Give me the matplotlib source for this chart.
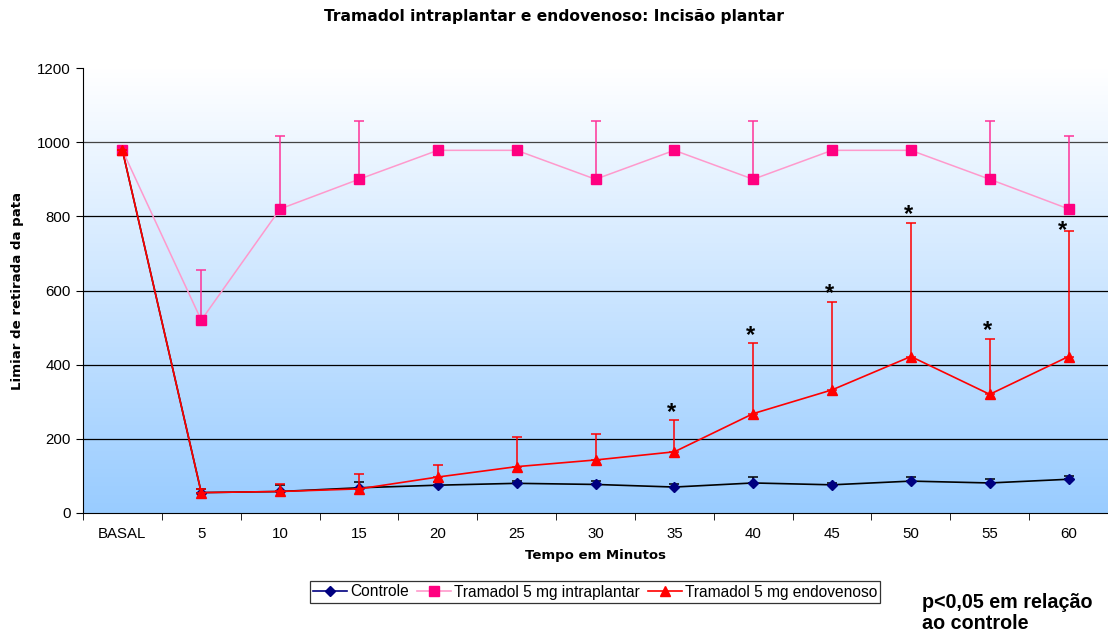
import numpy as np
import matplotlib
matplotlib.use("Agg")
import matplotlib.pyplot as plt
from matplotlib.colors import LinearSegmentedColormap
from matplotlib.lines import Line2D

plt.rcParams['font.family'] = ['Liberation Sans', 'DejaVu Sans']

# Data
categories = ["BASAL", "5", "10", "15", "20", "25", "30", "35", "40", "45", "50", "55", "60"]

controle = [978, 55, 58, 68, 75, 80, 77, 70, 81, 76, 86, 81, 91]
controle_err = [0, 10, 17, 16, 8, 7, 8, 8, 16, 6, 12, 10, 10]

intraplantar = [978, 520, 820, 900, 978, 978, 900, 978, 900, 978, 978, 900, 820]
intraplantar_err = [0, 135, 197, 158, 0, 0, 158, 0, 158, 0, 0, 158, 197]

endovenoso = [978, 55, 58, 65, 97, 125, 143, 165, 268, 332, 422, 320, 422]
endovenoso_err = [0, 10, 20, 40, 32, 80, 69, 85, 190, 238, 361, 150, 338]

significant = [False, False, False, False, False, False, False, True, True, True, True, True, True]

fig = plt.figure(figsize=(11.08, 6.32), dpi=100)
ax = fig.add_axes([83 / 1108, 1 - 513 / 632, 1 - 83 / 1108, (513 - 68) / 632])

x = np.arange(len(categories))

# Gradient background of the plot area
grad = LinearSegmentedColormap.from_list("bg", ["#99CCFF", "#FFFFFF"])
ax.imshow(np.linspace(0, 1, 256).reshape(-1, 1), aspect='auto', cmap=grad,
          extent=[0, 1, 0, 1], transform=ax.transAxes, origin='lower', zorder=0)

ax.set_xlim(-0.5, len(categories) - 0.5)
ax.set_ylim(0, 1200)
ax.set_yticks(np.arange(0, 1201, 200))
for yv in range(200, 1001, 200):
    ax.axhline(yv, color='black' if yv < 1000 else '#444444', lw=0.9, zorder=1)


def draw(series, err, color, ecolor, lcolor, marker, ms, lw, z):
    lower = np.zeros(len(series))
    ax.errorbar(x, series, yerr=[lower, err], fmt='none', ecolor=ecolor,
                elinewidth=1.1, capsize=3.5, capthick=1.1, zorder=z)
    ax.plot(x, series, color=lcolor, lw=lw, zorder=z + 0.1)
    ax.plot(x, series, linestyle='none', marker=marker, ms=ms, color=color,
            markeredgecolor=color, zorder=z + 0.2)


draw(controle, controle_err, '#000080', 'black', 'black', 'D', 5, 1.2, 3)
draw(intraplantar, intraplantar_err, '#FF0080', '#FF3399', '#FF99CC', 's', 6.5, 1.1, 4)
draw(endovenoso, endovenoso_err, '#FF0000', '#FF0000', '#FF0000', '^', 6.5, 1.2, 5)

# Significance markers above the error bars
for i, sig in enumerate(significant):
    if sig:
        top = endovenoso[i] + endovenoso_err[i]
        last = i == len(categories) - 1
        dx = -0.08 if last else -0.03
        dy = -28 if last else -10
        ax.text(x[i] + dx, top + dy, "*", ha='center', va='bottom',
                fontsize=17, fontweight='bold', color='black', zorder=6)

# Axes styling
ax.spines['top'].set_visible(False)
ax.spines['right'].set_visible(False)
ax.spines['left'].set_color('black')
ax.spines['bottom'].set_color('black')
ax.set_xticks(x)
ax.set_xticklabels(categories, fontsize=10.8)
ax.tick_params(axis='x', which='major', length=0, pad=10)
ax.set_xticks(np.arange(-0.5, len(categories), 1.0), minor=True)
ax.tick_params(axis='x', which='minor', length=5, direction='out', color='black')
ax.tick_params(axis='y', length=5, direction='out', labelsize=10.8, pad=4)

ax.set_xlabel("Tempo em Minutos", family='DejaVu Sans', fontweight='bold',
              fontsize=9.5, labelpad=6)
ax.set_ylabel("Limiar de retirada da pata", family='DejaVu Sans', fontweight='bold',
              fontsize=9.6, labelpad=9)
fig.text(554 / 1108, 1 - 17 / 632, "Tramadol intraplantar e endovenoso: Incisão plantar",
         ha='center', va='center', family='DejaVu Sans', fontweight='bold', fontsize=11.2)

# Legend
handles = [
    Line2D([], [], color='#000080', marker='D', ms=5, lw=1.2, markeredgecolor='#000080'),
    Line2D([], [], color='#FF99CC', marker='s', ms=6.5, lw=1.2,
           markerfacecolor='#FF0080', markeredgecolor='#FF0080'),
    Line2D([], [], color='#FF0000', marker='^', ms=6.5, lw=1.2),
]
labels = ["Controle", "Tramadol 5 mg intraplantar", "Tramadol 5 mg endovenoso"]
leg = fig.legend(handles, labels, loc='center', bbox_to_anchor=(595 / 1108, 1 - 592 / 632),
                 ncol=3, fontsize=11.2, frameon=True, fancybox=False, edgecolor='black',
                 handlelength=2.2, handletextpad=0.2, columnspacing=0.5,
                 borderpad=0.2, borderaxespad=0)
leg.get_frame().set_linewidth(0.9)

fig.text(922 / 1108, 1 - 613 / 632, "p<0,05 em relação\nao controle", ha='left', va='center',
         fontsize=14.2, fontweight='bold', linespacing=1.1)

fig.savefig("out.png", dpi=100, facecolor='white')
